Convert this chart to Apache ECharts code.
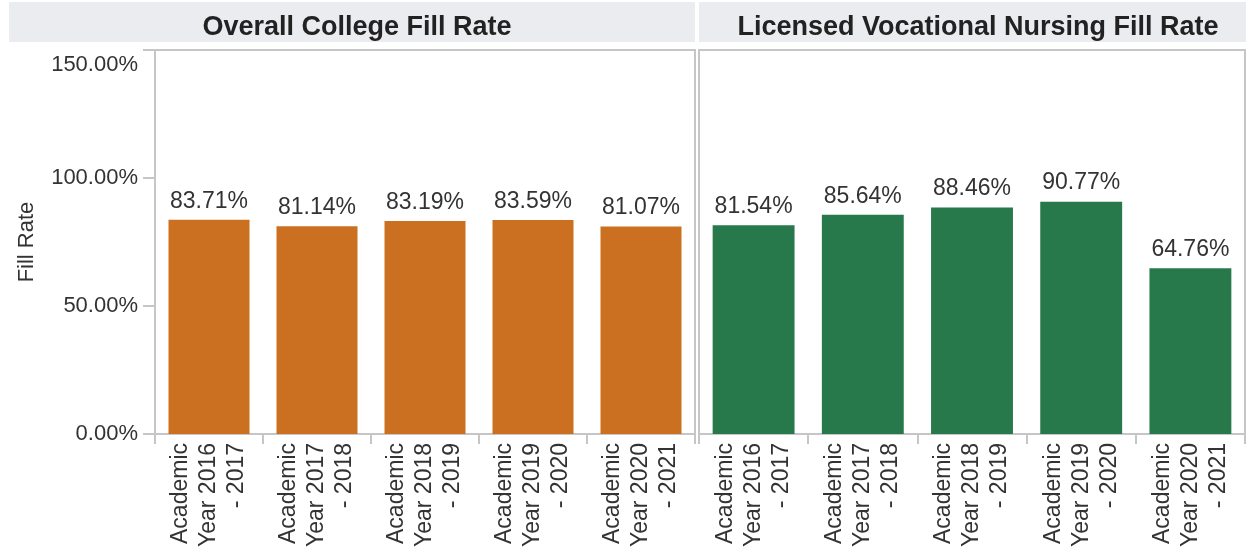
<!DOCTYPE html>
<html>
<head>
<meta charset="utf-8">
<script src="https://cdn.jsdelivr.net/npm/echarts@6/dist/echarts.min.js"></script>
<style>
  html, body { margin: 0; padding: 0; background: #fff; }
  #chart { width: 1246px; height: 552px; }
</style>
</head>
<body>
<div id="chart"></div>
<script>
// 数据
const years = ['Academic\nYear 2016\n- 2017', 'Academic\nYear 2017\n- 2018', 'Academic\nYear 2018\n- 2019', 'Academic\nYear 2019\n- 2020', 'Academic\nYear 2020\n- 2021'];
const collegeRate = [83.71, 81.14, 83.19, 83.59, 81.07];
const nursingRate = [81.54, 85.64, 88.46, 90.77, 64.76];
const panelTitles = ['Overall College Fill Rate', 'Licensed Vocational Nursing Fill Rate'];
const yTicks = [0, 50, 100, 150];

const font = 'Liberation Sans, Arial, sans-serif';
const lineColor = '#c6c6c6';

const pct = v => v.toFixed(2) + '%';

const xAxisBase = (gridIndex) => ({
  type: 'category',
  gridIndex: gridIndex,
  data: years,
  axisLine: { lineStyle: { color: lineColor, width: 2 } },
  axisTick: { show: true, length: 10, lineStyle: { color: lineColor, width: 2 } },
  axisLabel: {
    rotate: 90,
    fontFamily: font,
    fontSize: 23,
    lineHeight: 28,
    color: '#333',
    margin: 9,
    interval: 0
  }
});

const barSeries = (idx, data, color) => ({
  type: 'bar',
  xAxisIndex: idx,
  yAxisIndex: idx,
  data: data,
  barCategoryGap: '25%',
  itemStyle: { color: color },
  label: {
    show: true,
    position: 'top',
    distance: 7,
    fontFamily: font,
    fontSize: 23,
    color: '#333',
    formatter: p => pct(p.value)
  }
});

const chart = echarts.init(document.getElementById('chart'));
chart.setOption({
  animation: false,
  backgroundColor: '#fff',
  graphic: [
    { type: 'rect', shape: { x: 9, y: 2, width: 686, height: 40 }, style: { fill: '#ebecef' }, z: 0 },
    { type: 'rect', shape: { x: 699, y: 2, width: 547, height: 40 }, style: { fill: '#ebecef' }, z: 0 }
  ],
  title: [
    {
      text: panelTitles[0], left: 352, top: 9, textAlign: 'center',
      textStyle: { fontFamily: font, fontSize: 27, fontWeight: 'bold', color: '#222' }
    },
    {
      text: panelTitles[1], left: 973, top: 9, textAlign: 'center',
      textStyle: { fontFamily: font, fontSize: 27, fontWeight: 'bold', color: '#222' }
    }
  ],
  grid: [
    { left: 155, right: 551, top: 50, bottom: 118, show: true, borderColor: lineColor, borderWidth: 2 },
    { left: 699, right: 1, top: 50, bottom: 118, show: true, borderColor: lineColor, borderWidth: 2 }
  ],
  xAxis: [xAxisBase(0), xAxisBase(1)],
  yAxis: [
    {
      type: 'value',
      gridIndex: 0,
      min: yTicks[0],
      max: yTicks[yTicks.length - 1],
      interval: 50,
      name: 'Fill Rate',
      nameLocation: 'middle',
      nameGap: 117,
      nameTextStyle: { fontFamily: font, fontSize: 22, color: '#333' },
      axisLine: { show: true, lineStyle: { color: lineColor, width: 2 } },
      axisTick: { show: true, length: 12, lineStyle: { color: lineColor, width: 2 } },
      splitLine: { show: false },
      axisLabel: {
        fontFamily: font,
        fontSize: 22,
        color: '#333',
        margin: 17,
        formatter: v => v === 150 ? '{top|' + pct(v) + '}' : pct(v),
        rich: { top: { fontFamily: font, fontSize: 22, color: '#333', padding: [30, 0, 0, 0] } }
      }
    },
    {
      type: 'value',
      gridIndex: 1,
      min: yTicks[0],
      max: yTicks[yTicks.length - 1],
      interval: 50,
      show: false,
      splitLine: { show: false }
    }
  ],
  series: [
    barSeries(0, collegeRate, '#ca7020'),
    barSeries(1, nursingRate, '#27784b')
  ]
});
</script>
</body>
</html>
